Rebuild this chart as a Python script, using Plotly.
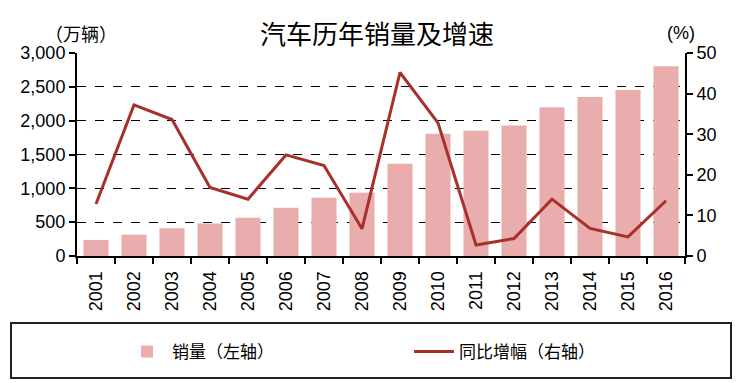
import plotly.graph_objects as go

years = ["2001", "2002", "2003", "2004", "2005", "2006", "2007", "2008",
         "2009", "2010", "2011", "2012", "2013", "2014", "2015", "2016"]
sales = [237, 315, 410, 480, 565, 712, 860, 935,
         1362, 1805, 1850, 1930, 2200, 2350, 2455, 2803]
growth = [12.8, 37.2, 33.6, 16.9, 14.0, 24.9, 22.3, 6.7,
          45.2, 32.8, 2.7, 4.3, 14.0, 6.8, 4.7, 13.6]
y_left_ticks = [0, 500, 1000, 1500, 2000, 2500, 3000]
y_left_labels = ["0", "500", "1,000", "1,500", "2,000", "2,500", "3,000"]
y_right_ticks = [0, 10, 20, 30, 40, 50]

title_text = "汽车历年销量及增速"
left_unit = "（万辆）"
right_unit = "(%)"
bar_name = "销量（左轴）"
line_name = "同比增幅（右轴）"

BAR_COLOR = "#E8ADAC"
LINE_COLOR = "#A8302A"
CJK = "Noto Sans CJK SC"
LAT = "Liberation Sans, Arial"

L, R, T, B = 77, 685, 53, 256
PW, PH = R - L, B - T


def px_to_paper(px, py):
    return (px - L) / PW, (B - py) / PH


fig = go.Figure()
fig.add_trace(go.Bar(x=years, y=sales, name=bar_name, marker_color=BAR_COLOR,
                     marker_line_width=0))
fig.add_trace(go.Scatter(x=years, y=growth, name=line_name, yaxis="y2",
                         mode="lines", line=dict(color=LINE_COLOR, width=3)))

lgx, lgy = px_to_paper(122, 352)
tx, ty = px_to_paper(377, 33)
ux, uy = px_to_paper(81, 33)
rx, ry = px_to_paper(681, 33)
bx0, by0 = px_to_paper(11, 378)
bx1, by1 = px_to_paper(731, 323)

fig.update_layout(
    width=736, height=383,
    margin=dict(l=L, r=736 - R, t=T, b=383 - B, autoexpand=False),
    paper_bgcolor="white", plot_bgcolor="white",
    bargap=0.34,
    showlegend=True,
    legend=dict(orientation="h", x=lgx, xanchor="left", y=lgy, yanchor="middle",
                font=dict(family=CJK, size=17, color="black"),
                itemwidth=40, entrywidth=232, entrywidthmode="pixels",
                traceorder="normal", bgcolor="rgba(0,0,0,0)"),
    xaxis=dict(type="category", tickangle=-90, showline=True, linecolor="black",
               linewidth=2, ticks="outside", tickson="boundaries", ticklen=6,
               tickwidth=2, tickcolor="black", ticklabelstandoff=6,
               tickfont=dict(family=LAT, size=18, color="black"), showgrid=False),
    yaxis=dict(range=[0, 3000], tickvals=y_left_ticks, ticktext=y_left_labels,
               showline=True, linecolor="black", linewidth=2, ticks="outside",
               ticklen=6, tickwidth=2, tickcolor="black",
               tickfont=dict(family=LAT, size=18, color="black"),
               showgrid=True, gridcolor="black", gridwidth=1.3, griddash="dash",
               zeroline=False),
    yaxis2=dict(range=[0, 50], tickvals=y_right_ticks, overlaying="y", side="right",
                showline=True, linecolor="black", linewidth=2, ticks="outside",
                ticklen=6, tickwidth=2, tickcolor="black",
                tickfont=dict(family=LAT, size=18, color="black"),
                showgrid=False, zeroline=False),
    annotations=[
        dict(text=title_text, x=tx, y=ty, xref="paper", yref="paper", showarrow=False,
             xanchor="center", yanchor="middle",
             font=dict(family=CJK, size=26, color="black")),
        dict(text=left_unit, x=ux, y=uy, xref="paper", yref="paper", showarrow=False,
             xanchor="center", yanchor="middle",
             font=dict(family=CJK, size=18, color="black")),
        dict(text=right_unit, x=rx, y=ry, xref="paper", yref="paper", showarrow=False,
             xanchor="center", yanchor="middle",
             font=dict(family=LAT, size=18, color="black")),
    ],
    shapes=[dict(type="rect", xref="paper", yref="paper",
                 x0=bx0, x1=bx1, y0=by0, y1=by1,
                 line=dict(color="#222222", width=2), fillcolor="rgba(0,0,0,0)")],
)

fig.write_html("out.html", config={"displayModeBar": False},
               post_script="document.body.style.margin='0';document.body.style.overflow='hidden';")
